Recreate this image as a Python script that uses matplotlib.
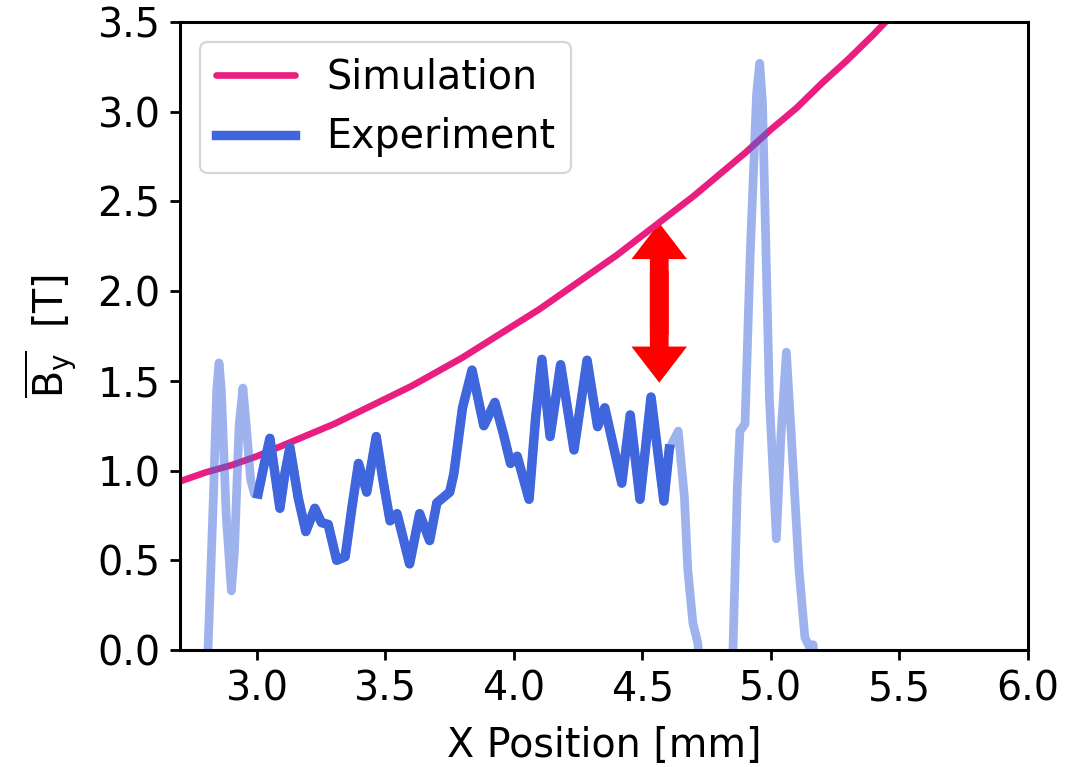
import matplotlib
matplotlib.use("Agg")
import matplotlib.pyplot as plt
import numpy as np
from matplotlib.patches import FancyArrowPatch

# Simulated field along x [mm] -> [T]
sim_x = [2.7, 2.8, 2.9, 3.0, 3.1, 3.2, 3.3, 3.4, 3.5, 3.6, 3.7, 3.8, 3.9, 4.0, 4.1,
         4.2, 4.3, 4.4, 4.5, 4.6, 4.7, 4.8, 4.9, 5.0, 5.1, 5.2, 5.3, 5.4, 5.5]
sim_y = [0.94, 0.99, 1.03, 1.08, 1.14, 1.20, 1.26, 1.33, 1.40, 1.47, 1.55, 1.63,
         1.72, 1.81, 1.90, 2.00, 2.10, 2.20, 2.31, 2.42, 2.53, 2.65, 2.77, 2.90,
         3.02, 3.16, 3.29, 3.43, 3.58]

# Measured field (full trace)
exp_x = [2.800, 2.809, 2.830, 2.843, 2.852, 2.861, 2.880, 2.900, 2.912, 2.930,
         2.945, 2.958, 2.975, 2.990, 3.004, 3.030, 3.050, 3.068, 3.089, 3.108,
         3.128, 3.160, 3.190, 3.225, 3.251, 3.277, 3.310, 3.343, 3.370, 3.395,
         3.427, 3.464, 3.490, 3.518, 3.545, 3.594, 3.633, 3.672, 3.700, 3.750,
         3.766, 3.800, 3.837, 3.883, 3.926, 3.960, 3.987, 4.013, 4.059, 4.085,
         4.109, 4.141, 4.182, 4.234, 4.285, 4.326, 4.354, 4.420, 4.453, 4.491,
         4.534, 4.584, 4.605, 4.640, 4.664, 4.677, 4.697, 4.716, 4.730, 4.840,
         4.853, 4.870, 4.880, 4.900, 4.920, 4.945, 4.957, 4.968, 4.995, 5.022,
         5.040, 5.061, 5.080, 5.110, 5.133, 5.150, 5.165, 5.175]
exp_y = [-0.20, 0.00, 0.85, 1.45, 1.60, 1.45, 0.75, 0.33, 0.55, 1.25,
         1.46, 1.25, 0.95, 0.87, 0.87, 1.05, 1.18, 1.00, 0.79, 0.98,
         1.13, 0.85, 0.66, 0.79, 0.71, 0.70, 0.50, 0.52, 0.80, 1.04,
         0.88, 1.19, 0.95, 0.72, 0.76, 0.48, 0.76, 0.61, 0.82, 0.88,
         0.98, 1.35, 1.56, 1.25, 1.38, 1.20, 1.04, 1.08, 0.84, 1.30,
         1.62, 1.19, 1.59, 1.115, 1.615, 1.245, 1.35, 0.93, 1.31, 0.84,
         1.41, 0.83, 1.12, 1.22, 0.85, 0.45, 0.15, 0.04, -0.20, -0.20,
         0.00, 0.90, 1.22, 1.26, 2.20, 3.10, 3.27, 3.05, 1.40, 0.62,
         1.20, 1.66, 1.20, 0.45, 0.07, 0.02, 0.03, -0.20]

# Trusted measurement window [mm]
valid_range = (3.0, 4.605)

# Gap indicator between simulation and experiment
gap_x = 4.566
gap_y = (1.49, 2.38)

SIM_COLOR = "#e91e80"
EXP_COLOR = "#3f66dc"

plt.rcParams["font.family"] = "DejaVu Sans"
plt.rcParams["font.size"] = 28.5

fig = plt.figure(figsize=(10.83, 7.67), dpi=100)
ax = fig.add_axes([0.1662, 0.1525, 0.7826, 0.8188])

ex = np.array(exp_x)
ey = np.array(exp_y)
mask = (ex >= valid_range[0]) & (ex <= valid_range[1])

ax.plot(sim_x, sim_y, color=SIM_COLOR, lw=4.8, label="Simulation",
        solid_capstyle="round")
ax.plot(ex, ey, color=EXP_COLOR, alpha=0.5, lw=6.3, solid_joinstyle="round")
ax.plot(ex[mask], ey[mask], color=EXP_COLOR, lw=6.8, label="Experiment",
        solid_joinstyle="round")

# double-headed arrow built from two overlapping single arrows
arrow_kw = dict(arrowstyle="simple,head_length=26,head_width=40,tail_width=13.5",
                color="#ff0000", lw=0, shrinkA=0, shrinkB=0, mutation_scale=1)
span = gap_y[1] - gap_y[0]
ax.add_patch(FancyArrowPatch((gap_x, gap_y[0] + 0.3 * span), (gap_x, gap_y[1]),
                             **arrow_kw))
ax.add_patch(FancyArrowPatch((gap_x, gap_y[1] - 0.3 * span), (gap_x, gap_y[0]),
                             **arrow_kw))

ax.set_xlim(2.7, 6.0)
ax.set_ylim(0, 3.5)
ax.set_xticks([3.0, 3.5, 4.0, 4.5, 5.0, 5.5, 6.0])
ax.set_yticks([0.0, 0.5, 1.0, 1.5, 2.0, 2.5, 3.0, 3.5])
ax.set_xlabel("X Position [mm]", labelpad=12)
ax.set_ylabel(r"$\overline{\mathrm{B}_\mathrm{y}}$  [T]", labelpad=14)

for s in ax.spines.values():
    s.set_linewidth(2.2)
ax.tick_params(width=2.0, length=7, pad=7)

leg = ax.legend(loc="upper left", framealpha=0.8, borderaxespad=0.5)
leg.get_frame().set_linewidth(1.6)

fig.savefig("out.png", dpi=100)
